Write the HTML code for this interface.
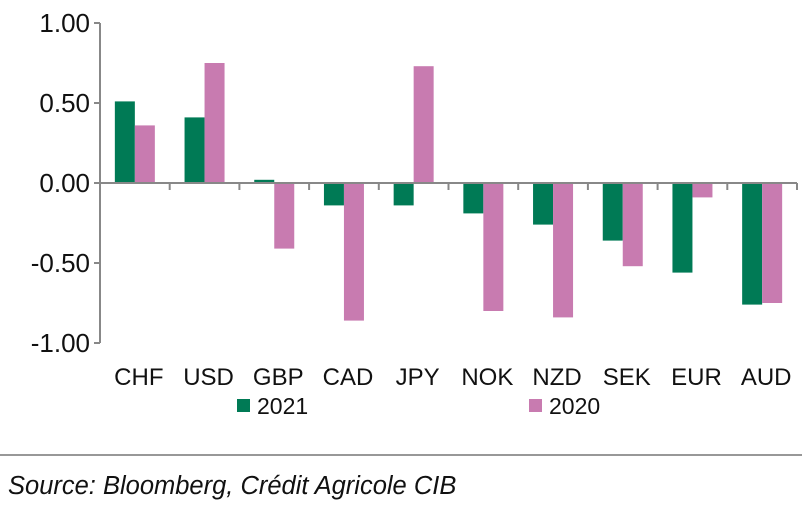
<!DOCTYPE html>
<html><head><meta charset="utf-8"><style>
body{margin:0;background:#fff;width:802px;height:503px;overflow:hidden;font-family:"Liberation Sans",Arial,sans-serif}
</style></head><body>
<svg id="chart" width="802" height="503" xmlns="http://www.w3.org/2000/svg" font-family="Liberation Sans, Arial, sans-serif"></svg>
<script>
const categories=["CHF","USD","GBP","CAD","JPY","NOK","NZD","SEK","EUR","AUD"];
const series2021=[0.51,0.41,0.02,-0.14,-0.14,-0.19,-0.26,-0.36,-0.56,-0.76];
const series2020=[0.36,0.75,-0.41,-0.86,0.73,-0.80,-0.84,-0.52,-0.09,-0.75];
const yTicks=[1,0.5,0,-0.5,-1];
const yTickLabels=["1.00","0.50","0.00","-0.50","-1.00"];
const svg=document.getElementById('chart');
const NS='http://www.w3.org/2000/svg';
const x0=100,x1=797,yTop=23,yBot=343;
const bw=(x1-x0)/categories.length;
function y(v){return yTop+(1-v)/2*(yBot-yTop);}
function xc(i){return x0+bw*(i+0.5);}
function mk(tag,attrs,name){const e=document.createElementNS(NS,tag);for(const k in attrs)e.setAttribute(k,attrs[k]);


svg.appendChild(e);return e;}
yTicks.forEach((t,i)=>{
 mk('line',{x1:x0-6,x2:x0,y1:y(t),y2:y(t),stroke:'#888','stroke-width':2},'y-tick');
 const tx=mk('text',{x:x0-10,y:y(t)+9,'text-anchor':'end','font-size':26,fill:'#111'},'y-tick-label');tx.textContent=yTickLabels[i];
});
categories.forEach((c,i)=>{
 const v1=series2021[i],v2=series2020[i];
 mk('rect',{x:xc(i)-20,y:Math.min(y(v1),y(0)),width:20,height:Math.abs(y(v1)-y(0)),fill:'#007a55'},'bar-2021-'+c.toLowerCase());
 mk('rect',{x:xc(i),y:Math.min(y(v2),y(0)),width:20,height:Math.abs(y(v2)-y(0)),fill:'#c87bb0'},'bar-2020-'+c.toLowerCase());
 const tx=mk('text',{x:xc(i)+4,y:385,'text-anchor':'middle','font-size':24,fill:'#111'},'x-tick-label');tx.textContent=c;
});
for(let i=0;i<=categories.length;i++){mk('line',{x1:x0+bw*i,x2:x0+bw*i,y1:y(0),y2:y(0)+7,stroke:'#888','stroke-width':2},'x-tick');}
mk('line',{x1:x0,x2:x0,y1:yTop,y2:yBot,stroke:'#888','stroke-width':2},'y-axis');
mk('line',{x1:x0,x2:x1,y1:y(0),y2:y(0),stroke:'#888','stroke-width':2},'x-axis');
mk('rect',{x:237,y:399,width:13,height:13,fill:'#007a55'},'legend-swatch-2021');
let t=mk('text',{x:257,y:414,'font-size':23,fill:'#111'},'legend-label-2021');t.textContent='2021';
mk('rect',{x:529,y:399,width:13,height:13,fill:'#c87bb0'},'legend-swatch-2020');
t=mk('text',{x:549,y:414,'font-size':23,fill:'#111'},'legend-label-2020');t.textContent='2020';
mk('line',{x1:0,x2:802,y1:455,y2:455,stroke:'#777','stroke-width':1.5},'separator-line');
t=mk('text',{x:8,y:494,'font-size':25.5,'font-style':'italic',fill:'#111'},'source-note');t.textContent='Source: Bloomberg, Crédit Agricole CIB';
</script>
</body></html>
